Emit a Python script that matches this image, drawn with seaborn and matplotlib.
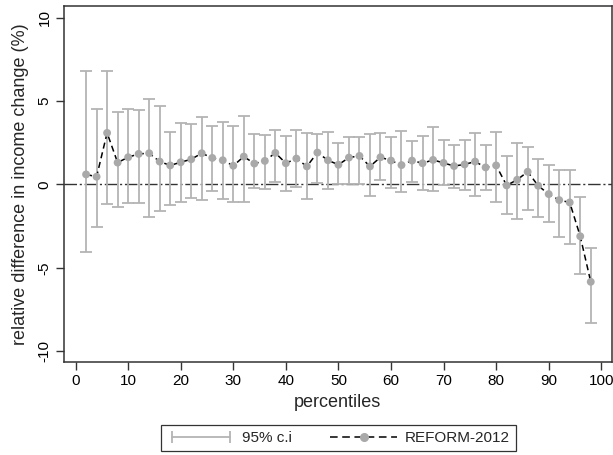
import matplotlib
matplotlib.use("Agg")
import matplotlib.pyplot as plt
from matplotlib.lines import Line2D
from matplotlib.legend_handler import HandlerLine2D
import numpy as np
import pandas as pd
import seaborn as sns

percentiles = list(range(2, 100, 2))
estimate = [0.60, 0.46, 3.09, 1.31, 1.63, 1.83, 1.87, 1.37, 1.14, 1.33,
            1.51, 1.87, 1.59, 1.45, 1.12, 1.67, 1.25, 1.41, 1.89, 1.27,
            1.55, 1.08, 1.91, 1.45, 1.18, 1.61, 1.71, 1.08, 1.63, 1.43,
            1.16, 1.43, 1.27, 1.47, 1.29, 1.10, 1.20, 1.37, 1.02, 1.14,
            -0.06, 0.28, 0.76, -0.08, -0.58, -0.94, -1.08, -3.11, -5.84]
ci_upper = [6.83, 4.52, 6.81, 4.36, 4.52, 4.48, 5.10, 4.70, 3.17, 3.67,
            3.60, 4.04, 3.53, 3.75, 3.50, 4.08, 3.05, 2.99, 3.29, 2.89,
            3.25, 3.11, 3.00, 3.13, 2.49, 2.83, 2.87, 3.05, 3.09, 2.83,
            3.23, 2.59, 2.89, 3.45, 2.65, 2.39, 2.65, 3.09, 2.39, 3.17,
            1.69, 2.49, 2.23, 1.53, 1.14, 0.86, 0.84, -0.74, -3.84]
ci_lower = [-4.08, -2.53, -1.20, -1.35, -1.10, -1.10, -1.93, -1.61, -1.22, -1.06,
            -0.84, -0.96, -0.42, -0.88, -1.08, -1.08, -0.24, -0.30, 0.16, -0.38,
            -0.14, -0.88, 0.10, -0.30, 0.00, 0.00, 0.00, -0.68, 0.24, -0.20,
            -0.48, 0.16, -0.32, -0.38, -0.04, -0.24, -0.32, -0.70, -0.32, -1.04,
            -1.77, -2.07, -1.53, -1.95, -2.27, -3.13, -3.57, -5.36, -8.33]
x_ticks = list(range(0, 101, 10))
y_ticks = [-10, -5, 0, 5, 10]
series_label = "REFORM-2012"
ci_label = "95% c.i"

df = pd.DataFrame({"p": percentiles, "est": estimate,
                   "lo": ci_lower, "hi": ci_upper})

sns.set_theme(style="ticks")
plt.rcParams["font.family"] = ["Liberation Sans", "DejaVu Sans"]

fig = plt.figure(figsize=(6.13, 4.55), dpi=100)
ax = fig.add_axes([0.1044, 0.2044, 0.8936, 0.7824])

bar_col = "#b4b4b4"
pt_col = "#a9a9a9"

ax.axhline(0, color="#333333", lw=1.0, ls=(0, (9, 2, 1.5, 2)), zorder=1)

err = np.vstack([df["est"] - df["lo"], df["hi"] - df["est"]])
ax.errorbar(df["p"], df["est"], yerr=err, fmt="none", ecolor=bar_col,
            elinewidth=1.3, capsize=4, capthick=1.3, zorder=2)

sns.lineplot(data=df, x="p", y="est", ax=ax, color="black", lw=1.1,
             linestyle=(0, (4, 2.5)), zorder=3, legend=False)
sns.scatterplot(data=df, x="p", y="est", ax=ax, color=pt_col, s=32,
                edgecolor="none", zorder=4, legend=False)

ax.set_xlim(-2.2, 102)
ax.set_ylim(-10.65, 10.7)
ax.set_xticks(x_ticks)
ax.set_yticks(y_ticks)
ax.set_yticklabels([str(v) for v in y_ticks], rotation=90, va="center")
ax.tick_params(axis="both", direction="out", length=5.5, width=1,
               color="#333333", labelsize=11, labelcolor="black", pad=3.5)
ax.set_xlabel("percentiles", fontsize=13, labelpad=4)
ax.set_ylabel("relative difference in income change (%)", fontsize=13, labelpad=6)
for s in ax.spines.values():
    s.set_visible(True)
    s.set_color("#333333")
    s.set_linewidth(1.1)

ci_handle = Line2D([], [], color=bar_col, lw=1.3, marker="|",
                   markersize=8, markeredgewidth=1.3)
ln_handle = Line2D([], [], color="black", lw=1.1, ls=(0, (5, 3)),
                   marker="o", markerfacecolor=pt_col, markeredgecolor=pt_col,
                   markersize=5.5)
leg = fig.legend([ci_handle, ln_handle], [ci_label, series_label],
                 loc="center", bbox_to_anchor=(0.552, 0.037), ncol=2,
                 fontsize=11, frameon=True, fancybox=False, edgecolor="black",
                 handlelength=4.4, columnspacing=2.5, handletextpad=0.5,
                 borderpad=0.4,
                 handler_map={ci_handle: HandlerLine2D(numpoints=2)})
leg.get_frame().set_linewidth(0.9)

fig.savefig("out.png", dpi=100, facecolor="white")
